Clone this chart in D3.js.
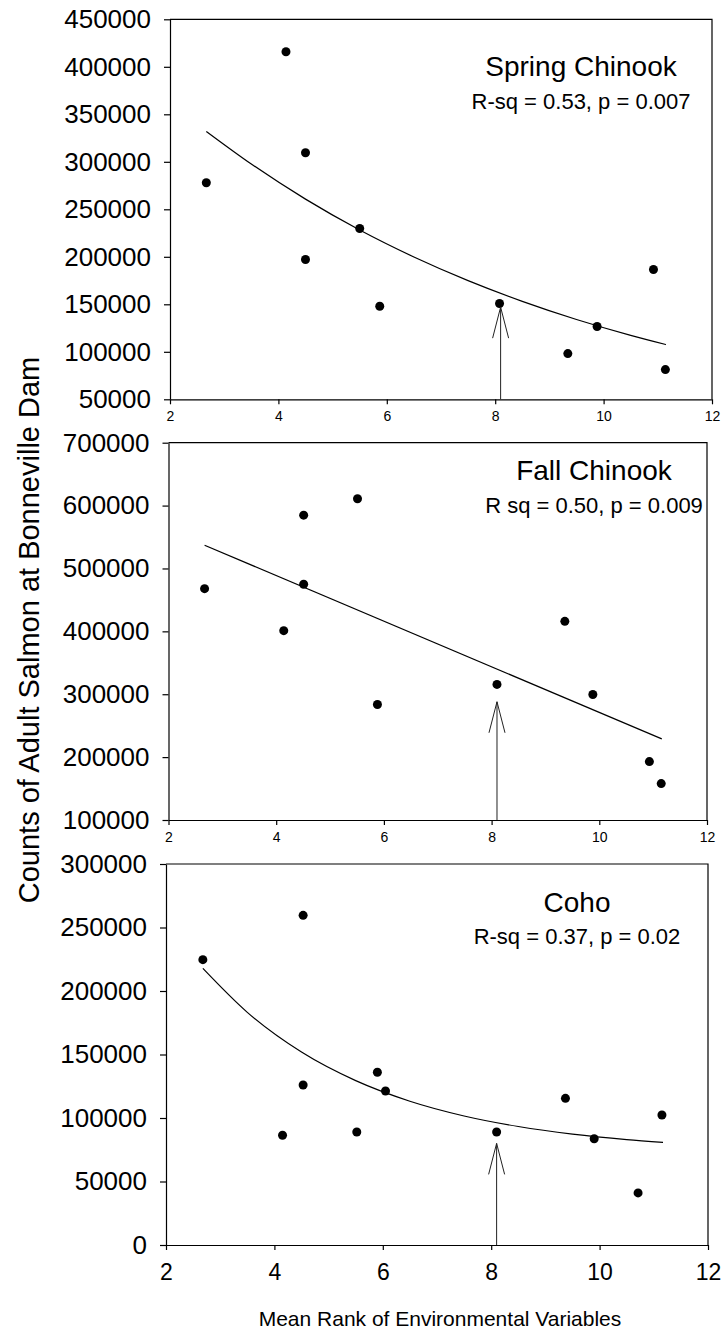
<!DOCTYPE html>
<html>
<head>
<meta charset="utf-8">
<script src="https://cdn.jsdelivr.net/npm/d3@7"></script>
<style>
  body { margin: 0; background: #fff; }
  svg text { font-family: "Liberation Sans", Arial, sans-serif; fill: #000; }
</style>
</head>
<body>
<div id="chart"></div>
<script>
// x ticks shared by all three panels
const xTicks = [2, 4, 6, 8, 10, 12];

// Spring Chinook
const springX = [2.67, 4.14, 4.50, 4.50, 5.50, 5.87, 8.08, 9.34, 9.88, 10.92, 11.14];
const springY = [278000, 415900, 309500, 197100, 229800, 148000, 150800, 98100, 126600, 186600, 81300];
const springFitX = [2.67, 3.5, 4.5, 5.5, 6.5, 7.5, 8.5, 9.5, 10.5, 11.15];
const springFitY = [332000, 297700, 260700, 228200, 199800, 174900, 153100, 134000, 117300, 107600];
const springTicks = [50000, 100000, 150000, 200000, 250000, 300000, 350000, 400000, 450000];
const springArrow = 147000;

// Fall Chinook
const fallX = [2.67, 4.14, 4.51, 4.51, 5.51, 5.88, 8.10, 9.36, 9.88, 10.93, 11.15];
const fallY = [467900, 401100, 584800, 474900, 610800, 283700, 315600, 415900, 299600, 192900, 157900];
const fallFitX = [2.67, 11.16];
const fallFitY = [537000, 229000];
const fallTicks = [100000, 200000, 300000, 400000, 500000, 600000, 700000];
const fallArrow = 288000;

// Coho
const cohoX = [2.68, 4.15, 4.53, 4.53, 5.52, 5.90, 6.05, 8.10, 9.37, 9.90, 10.71, 11.15];
const cohoY = [224700, 86400, 259600, 126000, 89000, 136000, 121300, 89000, 115500, 83700, 41000, 102400];
const cohoFitX = [2.68, 3.5, 4.5, 5.5, 6.5, 7.5, 8.5, 9.5, 10.5, 11.17];
const cohoFitY = [217800, 183200, 151900, 129400, 113200, 101600, 93300, 87300, 83000, 80800];
const cohoTicks = [0, 50000, 100000, 150000, 200000, 250000, 300000];
const cohoArrow = 80000;

const arrowX = 8.1;

class ScatterPanel {

  constructor(_config, _data) {
    this.config = _config;
    this.data = _data;
    this.initVis();
  }

  initVis() {
    const vis = this;
    const c = vis.config;

    vis.g = d3.select(c.parent).append('g');

    vis.xScale = d3.scaleLinear()
        .domain([2, 12])
        .range([c.left, c.right]);

    vis.yScale = d3.scaleLinear()
        .domain(d3.extent(vis.data.ticks))
        .range([c.bottom, c.top]);

    // frame (top + right)
    vis.g.append('path')
        .attr('d', `M${c.left},${c.top}H${c.right}V${c.bottom}`)
        .attr('fill', 'none')
        .attr('stroke', '#000')
        .attr('stroke-width', 1.2);

    vis.xAxis = d3.axisBottom(vis.xScale).tickValues(xTicks)
        .tickSizeInner(5).tickSizeOuter(0).tickPadding(c.xPad);
    vis.yAxis = d3.axisLeft(vis.yScale).tickValues(vis.data.ticks)
        .tickSizeInner(6).tickSizeOuter(0).tickPadding(13).tickFormat(d3.format('d'));

    const xg = vis.g.append('g')
        .attr('transform', `translate(0,${c.bottom})`)
        .call(vis.xAxis);
    xg.selectAll('text').style('font-size', c.xFont + 'px');

    const yg = vis.g.append('g')
        .attr('transform', `translate(${c.left},0)`)
        .call(vis.yAxis);
    yg.selectAll('text').style('font-size', '26px');

    vis.g.selectAll('.domain, .tick line')
        .attr('stroke', '#000')
        .attr('stroke-width', 1.2);

    // fitted curve
    const fit = vis.data.fitX.map((x, i) => [x, vis.data.fitY[i]]);
    vis.g.append('path')
        .datum(fit)
        .attr('d', d3.line()
            .x(d => vis.xScale(d[0]))
            .y(d => vis.yScale(d[1]))
            .curve(d3.curveMonotoneX))
        .attr('fill', 'none')
        .attr('stroke', '#000')
        .attr('stroke-width', 1.2);

    // points
    vis.g.selectAll('circle')
        .data(vis.data.x.map((x, i) => [x, vis.data.y[i]]))
      .join('circle')
        .attr('cx', d => vis.xScale(d[0]))
        .attr('cy', d => vis.yScale(d[1]))
        .attr('r', 4.5)
        .attr('fill', '#000');

    // arrow pointing at 8.1
    const ax = vis.xScale(arrowX);
    const ay = vis.yScale(vis.data.arrow);
    vis.g.append('path')
        .attr('d', `M${ax},${c.bottom}V${ay}M${ax - 8},${ay + 31}L${ax},${ay}L${ax + 8},${ay + 31}`)
        .attr('fill', 'none')
        .attr('stroke', '#222')
        .attr('stroke-width', 1);

    // titles
    vis.g.append('text')
        .attr('x', c.labelX)
        .attr('y', c.titleY)
        .attr('text-anchor', 'middle')
        .style('font-size', c.titleFont + 'px')
        .text(c.title);

    vis.g.append('text')
        .attr('x', c.labelX)
        .attr('y', c.statY)
        .attr('text-anchor', 'middle')
        .style('font-size', '22px')
        .text(c.stat);
  }
}

const svg = d3.select('#chart').append('svg')
    .attr('width', 726)
    .attr('height', 1333);

new ScatterPanel({
  parent: svg.node(), left: 170, right: 712, top: 19.3, bottom: 399.3,
  xFont: 14, xPad: 7, title: 'Spring Chinook', titleFont: 28, stat: 'R-sq = 0.53, p = 0.007',
  labelX: 581, titleY: 76, statY: 108.5
}, { x: springX, y: springY, fitX: springFitX, fitY: springFitY, ticks: springTicks, arrow: springArrow });

new ScatterPanel({
  parent: svg.node(), left: 168.5, right: 707, top: 442.7, bottom: 820,
  xFont: 14, xPad: 7, title: 'Fall Chinook', titleFont: 28, stat: 'R sq = 0.50, p = 0.009',
  labelX: 594, titleY: 480, statY: 513
}, { x: fallX, y: fallY, fitX: fallFitX, fitY: fallFitY, ticks: fallTicks, arrow: fallArrow });

new ScatterPanel({
  parent: svg.node(), left: 166, right: 708, top: 864, bottom: 1245,
  xFont: 23, xPad: 14, title: 'Coho', titleFont: 28, stat: 'R-sq = 0.37, p = 0.02',
  labelX: 577, titleY: 911.5, statY: 944
}, { x: cohoX, y: cohoY, fitX: cohoFitX, fitY: cohoFitY, ticks: cohoTicks, arrow: cohoArrow });

// axis titles
svg.append('text')
    .attr('transform', 'translate(39,630) rotate(-90)')
    .attr('text-anchor', 'middle')
    .style('font-size', '29px')
    .text('Counts of Adult Salmon at Bonneville Dam');

svg.append('text')
    .attr('x', 440)
    .attr('y', 1326)
    .attr('text-anchor', 'middle')
    .style('font-size', '21px')
    .text('Mean Rank of Environmental Variables');
</script>
</body>
</html>
